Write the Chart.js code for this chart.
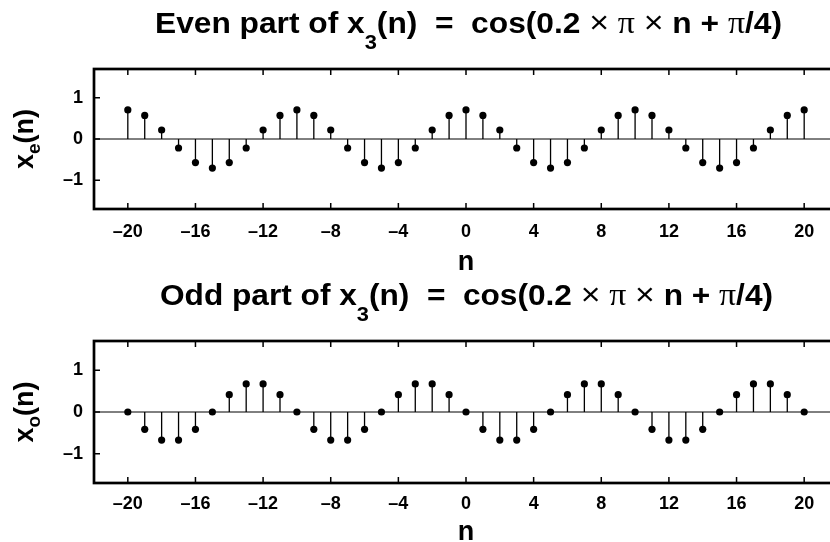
<!DOCTYPE html>
<html>
<head>
<meta charset="utf-8">
<title>Even and odd parts of x3(n)</title>
<script src="https://cdn.jsdelivr.net/npm/chart.js@4.4.0/dist/chart.umd.min.js"></script>
<style>
    html, body { margin: 0; padding: 0; background: #fff; overflow: hidden; width: 830px; height: 542px; }
    .panel { position: absolute; left: 0; width: 850px; height: 271px; }
</style>
</head>
<body>
<div class="panel" style="top:0"><canvas id="evenChart" width="850" height="271"></canvas></div>
<div class="panel" style="top:271px"><canvas id="oddChart" width="850" height="271"></canvas></div>
<script>
// sample index n
const nValues = [-20, -19, -18, -17, -16, -15, -14, -13, -12, -11,
                 -10, -9, -8, -7, -6, -5, -4, -3, -2, -1,
                 0, 1, 2, 3, 4, 5, 6, 7, 8, 9,
                 10, 11, 12, 13, 14, 15, 16, 17, 18, 19, 20];

// x_e(n)
const evenValues = [0.707, 0.572, 0.218, -0.218, -0.572, -0.707, -0.572, -0.218, 0.218, 0.572,
                    0.707, 0.572, 0.218, -0.218, -0.572, -0.707, -0.572, -0.218, 0.218, 0.572,
                    0.707, 0.572, 0.218, -0.218, -0.572, -0.707, -0.572, -0.218, 0.218, 0.572,
                    0.707, 0.572, 0.218, -0.218, -0.572, -0.707, -0.572, -0.218, 0.218, 0.572,
                    0.707];

// x_o(n)
const oddValues = [0, -0.416, -0.672, -0.672, -0.416, 0, 0.416, 0.672, 0.672, 0.416,
                   0, -0.416, -0.672, -0.672, -0.416, 0, 0.416, 0.672, 0.672, 0.416,
                   0, -0.416, -0.672, -0.672, -0.416, 0, 0.416, 0.672, 0.672, 0.416,
                   0, -0.416, -0.672, -0.672, -0.416, 0, 0.416, 0.672, 0.672, 0.416,
                   0];

const xTicks = [-20, -16, -12, -8, -4, 0, 4, 8, 12, 16, 20];
const yTicks = [-1, 0, 1];
const xRange = [-22, 22];
const yRange = [-1.7, 1.7];

const SANS = '"Liberation Sans", Arial, Helvetica, sans-serif';
const BIG = 'bold 29px ' + SANS;
const LABEL = 'bold 27px ' + SANS;
const SUB = 'bold 20px ' + SANS;
const LSUB = 'bold 19px ' + SANS;
const TIMES = '31px ' + SANS;
const PI = '31px "Liberation Serif", "DejaVu Serif", serif';

function titleParts(word) {
    return [
        { text: word + ' part of x', font: BIG },
        { text: '3', font: SUB, dy: 16 },
        { text: '(n)  =  cos(0.2 ', font: BIG },
        { text: '\u00d7', font: TIMES },
        { text: ' ', font: BIG },
        { text: '\u03c0', font: PI },
        { text: ' ', font: BIG },
        { text: '\u00d7', font: TIMES },
        { text: ' n + ', font: BIG },
        { text: '\u03c0', font: PI },
        { text: '/4)', font: BIG }
    ];
}

// draws a run of mixed-font pieces; if width is given it is squeezed to fit
function drawRich(ctx, parts, x, y, align, width) {
    let total = 0;
    parts.forEach(p => {
        ctx.font = p.font;
        p.w = ctx.measureText(p.text).width;
        total += p.w;
    });
    const sx = width ? width / total : 1;
    ctx.save();
    ctx.translate(align === 'center' ? x - total * sx / 2 : x, y);
    ctx.scale(sx, 1);
    ctx.textAlign = 'left';
    ctx.textBaseline = 'alphabetic';
    ctx.fillStyle = '#000';
    let cx = 0;
    parts.forEach(p => {
        ctx.font = p.font;
        ctx.fillText(p.text, cx, p.dy || 0);
        cx += p.w;
    });
    ctx.restore();
}

const stemAxes = {
    id: 'stemAxes',
    beforeDatasetsDraw(chart) {
        const { ctx, chartArea: a, scales: { y } } = chart;
        const y0 = y.getPixelForValue(0);
        ctx.save();
        ctx.strokeStyle = '#000';
        ctx.lineWidth = 1;
        ctx.beginPath();
        ctx.moveTo(a.left, y0);
        ctx.lineTo(a.right, y0);
        ctx.stroke();
        ctx.restore();
    },
    afterDraw(chart, args, opts) {
        const { ctx, chartArea: a, scales: { x, y } } = chart;
        const tick = 6;
        ctx.save();
        ctx.strokeStyle = '#000';
        ctx.lineWidth = 2.7;
        ctx.strokeRect(a.left, a.top, a.right - a.left, a.bottom - a.top);
        ctx.lineWidth = 1.5;
        ctx.beginPath();
        xTicks.forEach(v => {
            const px = x.getPixelForValue(v);
            ctx.moveTo(px, a.bottom); ctx.lineTo(px, a.bottom - tick);
            ctx.moveTo(px, a.top); ctx.lineTo(px, a.top + tick);
        });
        yTicks.forEach(v => {
            const py = y.getPixelForValue(v);
            ctx.moveTo(a.left, py); ctx.lineTo(a.left + tick, py);
            ctx.moveTo(a.right, py); ctx.lineTo(a.right - tick, py);
        });
        ctx.stroke();
        ctx.restore();

        // title
        drawRich(ctx, opts.title, opts.titleLeft, opts.titleBase, 'left', opts.titleRight - opts.titleLeft);

        // x label
        drawRich(ctx, [{ text: 'n', font: LABEL }], 466, opts.xLabelBase, 'center');

        // rotated y label
        ctx.save();
        ctx.translate(33, y.getPixelForValue(0));
        ctx.rotate(-Math.PI / 2);
        drawRich(ctx, [
            { text: 'x', font: LABEL },
            { text: opts.sub, font: LSUB, dy: 7 },
            { text: '(n)', font: LABEL }
        ], 0, 0, 'center');
        ctx.restore();
    }
};

function stemPoints(values) {
    return values.flatMap((v, i) => [
        { x: nValues[i], y: 0 },
        { x: nValues[i], y: v },
        { x: nValues[i], y: null }
    ]);
}

function makeChart(canvasId, values, cfg) {
    const ctx = document.getElementById(canvasId).getContext('2d');
    const tickFont = { family: SANS, size: 18, weight: 'bold' };

    return new Chart(ctx, {
        type: 'line',
        data: {
            datasets: [{
                label: 'samples',
                data: values.map((v, i) => ({ x: nValues[i], y: v })),
                showLine: false,
                pointRadius: 3.6,
                pointBackgroundColor: '#000',
                pointBorderColor: '#000',
                pointBorderWidth: 0,
                order: 0
            }, {
                label: 'stems',
                data: stemPoints(values),
                borderColor: '#000',
                borderWidth: 1.3,
                pointRadius: 0,
                spanGaps: false,
                order: 1
            }]
        },
        options: {
            responsive: false,
            animation: false,
            layout: { padding: { left: 0, right: 12, top: cfg.padTop, bottom: 0 } },
            plugins: {
                legend: { display: false },
                tooltip: { enabled: false },
                stemAxes: {
                    title: titleParts(cfg.word),
                    titleLeft: cfg.titleLeft,
                    titleRight: cfg.titleRight,
                    titleBase: cfg.titleBase,
                    xLabelBase: cfg.xLabelBase,
                    sub: cfg.sub
                }
            },
            scales: {
                x: {
                    type: 'linear',
                    min: xRange[0],
                    max: xRange[1],
                    grid: { display: false, drawTicks: false },
                    border: { display: false },
                    afterBuildTicks: s => { s.ticks = xTicks.map(v => ({ value: v })); },
                    afterFit: s => { s.height = cfg.xAxisHeight; },
                    ticks: {
                        color: '#000',
                        font: tickFont,
                        padding: cfg.xTickPad,
                        maxRotation: 0,
                        autoSkip: false,
                        callback: v => String(v).replace('-', '\u2013')
                    }
                },
                y: {
                    type: 'linear',
                    min: yRange[0],
                    max: yRange[1],
                    grid: { display: false, drawTicks: false },
                    border: { display: false },
                    afterBuildTicks: s => { s.ticks = yTicks.map(v => ({ value: v })); },
                    afterFit: s => { s.width = 94; },
                    ticks: {
                        color: '#000',
                        font: tickFont,
                        padding: 11,
                        callback: v => String(v).replace('-', '\u2013')
                    }
                }
            }
        },
        plugins: [stemAxes]
    });
}

makeChart('evenChart', evenValues, {
    word: 'Even', sub: 'e',
    padTop: 69, xAxisHeight: 62, xTickPad: 12,
    titleLeft: 155, titleRight: 782, titleBase: 33, xLabelBase: 270
});

makeChart('oddChart', oddValues, {
    word: 'Odd', sub: 'o',
    padTop: 70, xAxisHeight: 59, xTickPad: 10,
    titleLeft: 160, titleRight: 773, titleBase: 34, xLabelBase: 269
});
</script>
</body>
</html>
